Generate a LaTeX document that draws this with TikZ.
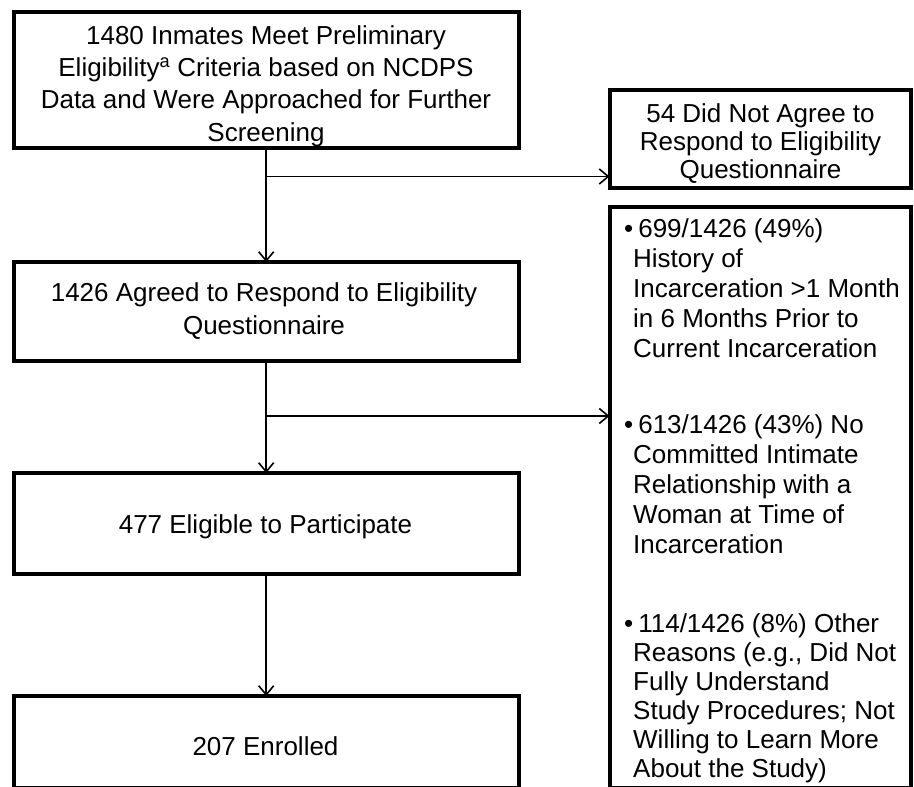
\documentclass[tikz,border=0pt]{standalone}
\usepackage{fontspec}
\setmainfont{Liberation Sans}
\usetikzlibrary{arrows.meta}
\begin{document}
\begin{tikzpicture}[x=1pt,y=-1pt,
  boxst/.style={draw=black, line width=4pt, inner sep=0pt, outer sep=0pt},
  conn/.style={draw=black, line width=1.6pt, -{Straight Barb[length=9pt,width=15pt]}},
  ctext/.style={inner sep=0pt, anchor=base, align=center},
  ltext/.style={inner sep=0pt, anchor=base west, align=left},
  fa/.style={font=\fontsize{26}{32.3}\selectfont},
  fb/.style={font=\fontsize{26}{28}\selectfont},
  fc/.style={font=\fontsize{26}{30}\selectfont},
  fd/.style={font=\fontsize{26}{29}\selectfont}]
\useasboundingbox (0,0) rectangle (914,787);
% boxes
\node[boxst, minimum width=505pt, minimum height=136pt] (B1) at (266.2,80) {};
\node[boxst, minimum width=301.5pt, minimum height=97.5pt] (B2) at (760.25,138.75) {};
\node[boxst, minimum width=505pt, minimum height=99pt] (B3) at (266.2,311.5) {};
\node[boxst, minimum width=505pt, minimum height=101pt] (B4) at (266.2,523.5) {};
\node[boxst, minimum width=505pt, minimum height=92pt] (B5) at (266.2,742) {};
\node[boxst, minimum width=301.5pt, minimum height=581pt] (B6) at (760.25,497.5) {};
% texts (anchor base = baseline of the last line)
\node[ctext, fa] (t1) at (266,141) {1480 Inmates Meet Preliminary\\Eligibility\textsuperscript{a} Criteria based on NCDPS\\Data and Were Approached for Further\\Screening};
\node[ctext, fb] (t2) at (760.5,178) {54 Did Not Agree to\\Respond to Eligibility\\Questionnaire};
\node[ctext, fa] (t3) at (264,334) {1426 Agreed to Respond to Eligibility\\Questionnaire};
\node[ctext, fa] (t4) at (265.5,533) {477 Eligible to Participate};
\node[ctext, fa] (t5) at (265.5,755.5) {207 Enrolled};
\node[ltext, fc] (b1) at (633,357) {\hspace*{-9pt}•\hspace{5pt}699/1426 (49\%)\\History of\\Incarceration >1 Month\\in 6 Months Prior to\\Current Incarceration};
\node[ltext, fc] (b2) at (633,553) {\hspace*{-9pt}•\hspace{5pt}613/1426 (43\%) No\\Committed Intimate\\Relationship with a\\Woman at Time of\\Incarceration};
\node[ltext, fd] (b3) at (633,777) {\hspace*{-9pt}•\hspace{5pt}114/1426 (8\%) Other\\Reasons (e.g., Did Not\\Fully Understand\\Study Procedures; Not\\Willing to Learn More\\About the Study)};
% connectors
\coordinate (j1) at (266.2,176.5);
\coordinate (j2) at (266.2,416);
\draw[conn] (B1.south) -- (B3.north);
\draw[conn] (j1) -- (j1 -| B2.west);
\draw[conn] (B3.south) -- (B4.north);
\draw[conn] (j2) -- (j2 -| B6.west);
\draw[conn] (B4.south) -- (B5.north);
\end{tikzpicture}
\end{document}
